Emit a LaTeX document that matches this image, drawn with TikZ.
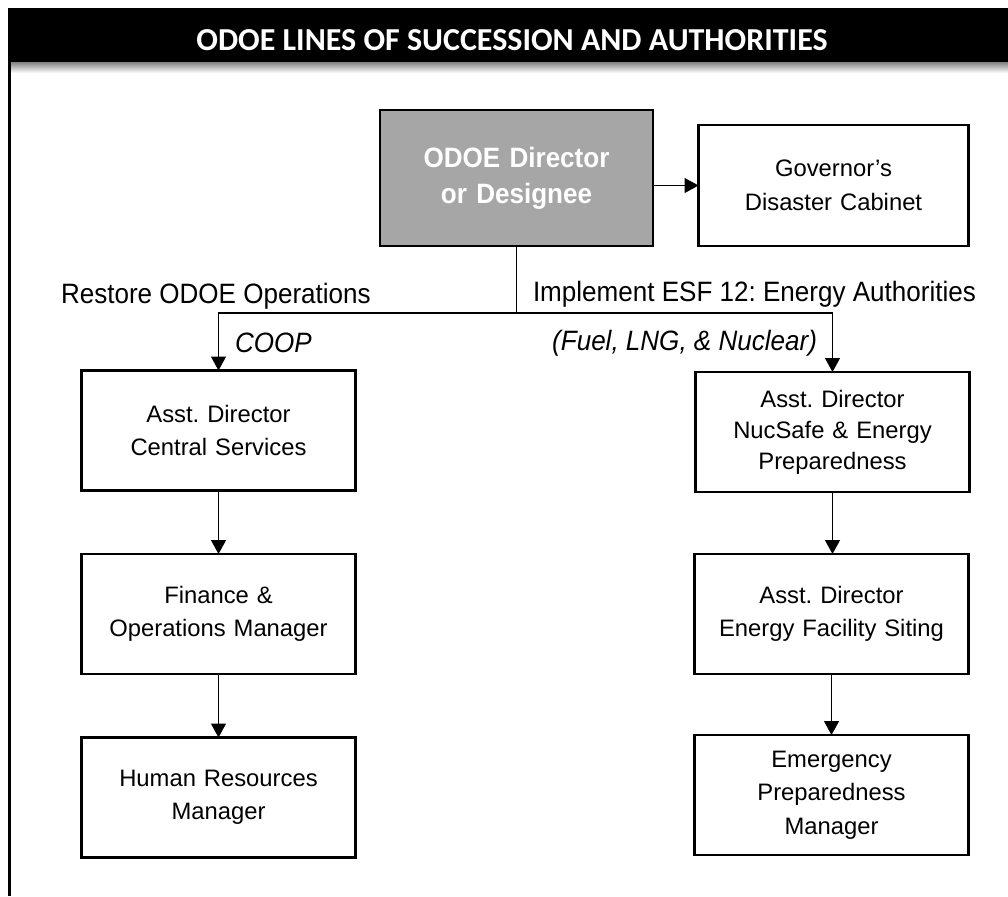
\documentclass[tikz,border=0pt]{standalone}
\usepackage{fontspec}
\setmainfont{Liberation Sans}
\newfontfamily\narrowfont{Liberation Sans}[FakeStretch=0.93]
\newfontfamily\titlefont{Carlito}
\usetikzlibrary{arrows.meta}
\definecolor{dirgray}{RGB}{166,166,166}
\frenchspacing
\tikzset{
  box/.style={draw=black, line width=2.6pt, fill=white, minimum width=274pt, minimum height=120pt,
    inner sep=0pt, outer sep=0pt, align=center, text width=270pt,
    font=\frenchspacing\fontsize{23.8}{33.5}\selectfont},
  dirbox/.style={box, fill=dirgray, text=white, minimum width=273pt, minimum height=136pt,
    font=\narrowfont\bfseries\fontsize{28}{36}\selectfont},
  link/.style={line width=1.3pt, draw=black},
  arr/.style={link, -{Triangle[length=14pt,width=15pt]}},
  lbl/.style={inner sep=0pt, outer sep=0pt, font=\frenchspacing\narrowfont\fontsize{28}{32}\selectfont},
  ilbl/.style={lbl, font=\narrowfont\itshape\fontsize{28}{32}\selectfont},
}
\begin{document}
\begin{tikzpicture}[x=1pt,y=-1pt]
\useasboundingbox (0,0) rectangle (1008,896);
% frame
\fill[black] (8,8) rectangle (1008,63);
\shade[top color=black!45, bottom color=white] (11,63) rectangle (1008,73);
\draw[line width=3pt] (9.5,63) -- (9.5,896);
\node[anchor=base, text=white, inner sep=0pt, font=\titlefont\bfseries\fontsize{32}{36}\selectfont] (title) at (512,51) {ODOE LINES OF SUCCESSION AND AUTHORITIES};
% boxes
\node[dirbox] (dir) at (516.5,178) {ODOE Director\\or Designee};
\node[box, minimum width=269pt, minimum height=121pt] (gov) at (833.5,185.5) {Governor’s\\Disaster Cabinet};
\node[box] (cs) at (218.5,430.5) {Asst. Director\\Central Services};
\node[box, font=\frenchspacing\fontsize{23.8}{31}\selectfont] (ns) at (832.5,432) {Asst. Director\\NucSafe \& Energy\\Preparedness};
\node[box] (fin) at (218.5,614) {Finance \&\\Operations Manager};
\node[box] (hr) at (218.5,797.5) {Human Resources\\Manager};
\node[box] (sit) at (831.5,614) {Asst. Director\\Energy Facility Siting};
\node[box] (ep) at (831.5,795) {Emergency\\Preparedness\\Manager};
% labels
\node[lbl, anchor=base west] (restore) at (61,303) {Restore ODOE Operations};
\node[lbl, anchor=base west] (impl) at (533,301) {Implement ESF 12: Energy Authorities};
\node[ilbl, anchor=base west] (coop) at (235,352) {COOP};
\node[ilbl, anchor=base east] (fuel) at (817,350) {(Fuel, LNG, \& Nuclear)};
% connectors
\coordinate (split) at (516.5,313);
\draw[arr] (dir.east |- gov.west) -- (gov.west);
\draw[link] (dir.south) -- (split);
\draw[arr] (split) -| (cs.north);
\draw[arr] (split) -| (ns.north);
\draw[arr] (cs.south) -- (fin.north);
\draw[arr] (fin.south) -- (hr.north);
\draw[arr] (ns.south) -- (ns.south |- sit.north);
\draw[arr] (sit.south) -- (ep.north);
\end{tikzpicture}
\end{document}
